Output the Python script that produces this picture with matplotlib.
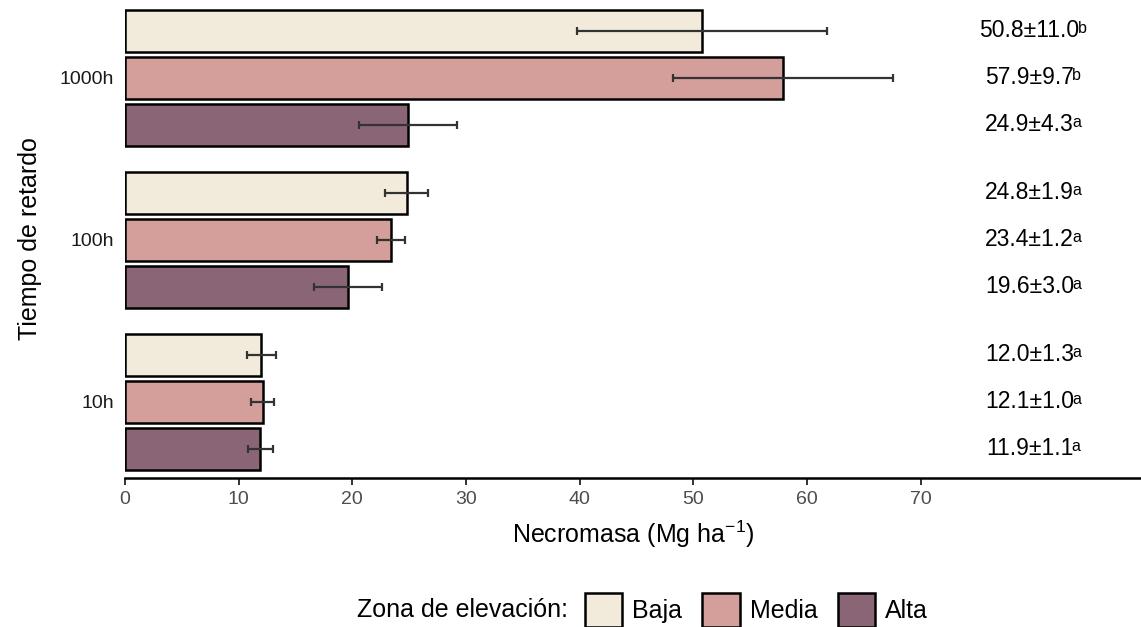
import numpy as np
import matplotlib.pyplot as plt
from matplotlib.patches import Patch

plt.rcParams['font.family'] = ['Liberation Sans', 'DejaVu Sans']
plt.rcParams['mathtext.fontset'] = 'custom'
plt.rcParams['mathtext.rm'] = 'Liberation Sans'
plt.rcParams['mathtext.it'] = 'Liberation Sans'

# ======================
# DATA
# ======================
tiempos = ["10h", "100h", "1000h"]
zonas = ["Baja", "Media", "Alta"]
colores = ["#F2EBDC", "#D49E9A", "#8A6576"]

# mean, sd, letter per zone (order: 10h, 100h, 1000h)
medias = {
    "Baja": [12.0, 24.8, 50.8],
    "Media": [12.1, 23.4, 57.9],
    "Alta": [11.9, 19.6, 24.9],
}
sds = {
    "Baja": [1.3, 1.9, 11.0],
    "Media": [1.0, 1.2, 9.7],
    "Alta": [1.1, 3.0, 4.3],
}
letras = {
    "Baja": ["a", "a", "b"],
    "Media": ["a", "a", "b"],
    "Alta": ["a", "a", "a"],
}

# ======================
# PLOT
# ======================
fig = plt.figure(figsize=(11.41, 6.27), dpi=100)
ax = fig.add_axes([0.1096, 0.2376, 0.8904, 0.7624])

y_base = np.arange(1, len(tiempos) + 1)
offsets = {"Baja": 0.29, "Media": 0.0, "Alta": -0.29}

for zona, color in zip(zonas, colores):
    y = y_base + offsets[zona]
    ax.barh(y, medias[zona], height=0.26, color=color, edgecolor="black",
            linewidth=1.8, zorder=2)
    ax.errorbar(medias[zona], y, xerr=sds[zona], fmt="none", ecolor="#333333",
                elinewidth=1.6, capsize=3.2, capthick=1.6, zorder=3)
    for yi, m, s, l in zip(y, medias[zona], sds[zona], letras[zona]):
        txt = ax.text(79.6, yi, f"{m:.1f}±{s:.1f}", ha="center", va="center",
                      fontsize=16.5, color="black")
        # letra de significancia como superindice
        ax.annotate(l, xy=(1, 0.93), xycoords=txt, xytext=(-1.5, 0),
                    textcoords="offset points", ha="left", va="top",
                    fontsize=11.5, color="black")

ax.set_xlim(0, 89.4)
ax.set_ylim(0.53, 3.48)
ax.set_xticks(np.arange(0, 80, 10))
ax.set_yticks(y_base)
ax.set_yticklabels(tiempos)

for s in ["top", "right", "left"]:
    ax.spines[s].set_visible(False)
ax.spines["bottom"].set_linewidth(1.8)
ax.tick_params(axis="y", length=0, pad=8, labelsize=14, labelcolor="#1a1a1a")
ax.tick_params(axis="x", length=5, width=1.4, pad=4, labelsize=14,
               labelcolor="#4D4D4D", color="#333333")

ax.set_xlabel("Necromasa (Mg ha$^{-1}$)", fontsize=18, labelpad=8)
ax.set_ylabel("Tiempo de retardo", fontsize=18, labelpad=13)

# legend
handles = [Patch(facecolor=c, edgecolor="black", linewidth=1.8) for c in colores]
fig.text(0.313, 0.027, "Zona de elevación:", ha="left", va="center", fontsize=18)
fig.legend(handles, zonas, loc="center left", bbox_to_anchor=(0.5127, 0.027),
           ncol=3, frameon=False, fontsize=18, handlelength=1.5, handleheight=1.75,
           columnspacing=0.8, handletextpad=0.4, borderaxespad=0, borderpad=0)

plt.savefig("out.png", dpi=100)
plt.close()
